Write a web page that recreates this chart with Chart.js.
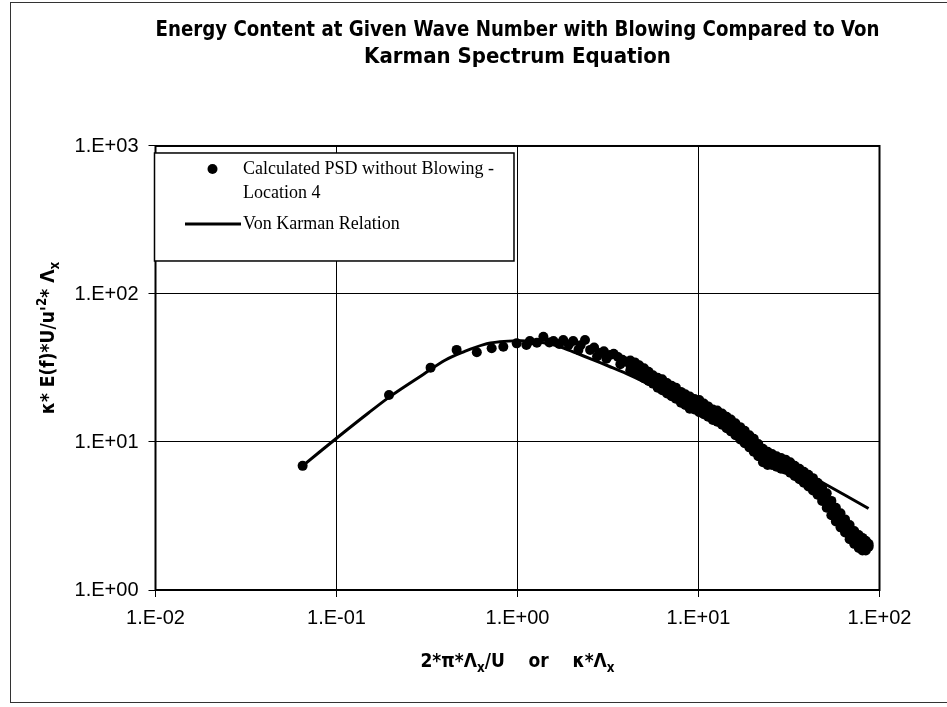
<!DOCTYPE html>
<html>
<head>
<meta charset="utf-8">
<script src="https://cdn.jsdelivr.net/npm/chart.js@4.4.1/dist/chart.umd.min.js"></script>
<style>
    html, body { margin: 0; padding: 0; background: #fff; }
</style>
</head>
<body>
<canvas id="grafica" width="947" height="707"></canvas>
<script>
const titulo = ['Energy Content at Given Wave Number with Blowing Compared to Von', 'Karman Spectrum Equation'];
// partes de los titulos de ejes: [texto, 0 normal | -1 subindice | 1 superindice]
const tituloX = [['2*π*Λ', 0], ['x', -1], ['/U    or    κ*Λ', 0], ['x', -1]];
const tituloY = [["κ* E(f)*U/u'", 0], ['2', 1], ['* Λ', 0], ['x', -1]];
const leyendaPSD = ['Calculated PSD without Blowing -', 'Location 4'];
const leyendaVonKarman = 'Von Karman Relation';

const ticksX = [0.01, 0.1, 1, 10, 100];
const etiquetasX = ['1.E-02', '1.E-01', '1.E+00', '1.E+01', '1.E+02'];
const ticksY = [1, 10, 100, 1000];
const etiquetasY = ['1.E+00', '1.E+01', '1.E+02', '1.E+03'];

// puntos sueltos (zona baja del espectro)
const psdX = [0.065, 0.195, 0.331, 0.461, 0.596, 0.72, 0.835, 0.99, 1.12, 1.17, 1.28, 1.39, 1.5, 1.58, 1.7, 1.79, 1.92, 2.03, 2.17, 2.23, 2.36, 2.52, 2.65, 2.75, 2.86, 3.0, 3.1, 3.25, 3.4, 3.59, 3.7, 3.8, 4.01];
const psdY = [6.9, 20.8, 31.8, 41.9, 40.4, 43.0, 44.0, 46.4, 45.2, 48.1, 46.9, 51.4, 47.0, 48.1, 46.0, 48.9, 45.5, 48.1, 41.9, 45.0, 48.9, 41.9, 43.5, 37.8, 39.9, 41.0, 36.5, 38.7, 39.5, 37.5, 33.5, 36.0, 34.9];

// banda densa de puntos: borde superior, centro e inferior
const bandaX = [4.2, 4.45, 4.7, 5.0, 5.3, 5.6, 5.95, 6.3, 6.7, 7.1, 7.5, 8.0, 8.45, 8.95, 9.5, 10.1, 10.7, 11.3, 12.0, 12.7, 13.5, 14.3, 15.1, 16.0, 17.0, 18.0, 19.1, 20.2, 21.4, 22.7, 24.1, 25.5, 27.0, 28.6, 30.3, 32.1, 34.0, 36.1, 38.2, 40.5, 42.9, 45.5, 48.2, 51.1, 54.2, 57.4, 60.9, 64.5, 68.4, 72.5, 76.8, 80.5, 84.0, 87.0];
const bandaSuperior = [35.5, 34.5, 33.0, 31.5, 29.8, 28.2, 27.2, 26.5, 25.0, 24.0, 23.3, 21.8, 21.0, 20.3, 19.5, 19.2, 18.2, 17.4, 16.6, 16.3, 15.6, 14.8, 14.2, 13.4, 12.6, 11.9, 11.1, 10.5, 9.7, 9.0, 8.6, 8.3, 8.0, 7.8, 7.6, 7.3, 6.9, 6.6, 6.3, 6.0, 5.7, 5.3, 4.9, 4.5, 4.0, 3.6, 3.3, 3.0, 2.75, 2.5, 2.35, 2.25, 2.15, 2.05];
const bandaCentro = [33.0, 31.8, 30.8, 29.0, 27.9, 26.3, 25.3, 24.2, 23.2, 22.0, 21.4, 20.1, 19.3, 18.6, 18.0, 17.4, 16.8, 16.0, 15.3, 14.9, 14.3, 13.6, 12.9, 12.2, 11.4, 10.8, 10.1, 9.5, 8.8, 8.1, 7.8, 7.6, 7.4, 7.2, 7.0, 6.7, 6.4, 6.1, 5.8, 5.5, 5.2, 4.8, 4.4, 4.0, 3.6, 3.2, 2.95, 2.7, 2.45, 2.25, 2.12, 2.05, 2.0, 2.0];
const bandaInferior = [30.5, 29.6, 28.5, 27.0, 25.8, 24.8, 23.3, 22.4, 21.3, 20.4, 19.6, 18.4, 17.8, 16.8, 16.6, 15.9, 15.4, 14.8, 14.1, 13.7, 13.1, 12.4, 11.8, 11.1, 10.4, 9.8, 9.2, 8.6, 8.0, 7.3, 7.0, 7.0, 6.8, 6.6, 6.5, 6.2, 5.9, 5.6, 5.3, 5.0, 4.7, 4.4, 4.0, 3.6, 3.2, 2.9, 2.65, 2.45, 2.2, 2.05, 1.92, 1.85, 1.85, 1.95];

// relacion de Von Karman
const vonKarmanX = [0.065, 0.1, 0.15, 0.2, 0.3, 0.4, 0.5, 0.65, 0.8, 1.0, 1.2, 1.4, 1.7, 2.1, 2.6, 3.2, 4.0, 5.0, 6.4, 8.0, 10.2, 13, 17, 22, 30, 40, 50, 65, 87];
const vonKarmanY = [6.9, 10.6, 15.7, 20.5, 28.5, 35.8, 40.5, 45.5, 47.5, 48.3, 48.0, 46.8, 44.2, 40.0, 36.0, 32.5, 29.0, 25.5, 21.7, 18.5, 15.6, 13.1, 10.9, 9.1, 7.4, 6.05, 5.2, 4.35, 3.55];

const fuenteSans = '"Liberation Sans", Arial, sans-serif';
const fuenteAngosta = '"DejaVu Sans Condensed", "Liberation Sans", sans-serif';
const fuenteSerif = '"Liberation Serif", "Times New Roman", serif';

const puntosPSD = psdX.map((x, i) => ({ x, y: psdY[i] }));
bandaX.forEach((x, i) => {
    puntosPSD.push({ x, y: bandaSuperior[i] });
    puntosPSD.push({ x, y: bandaCentro[i] });
    puntosPSD.push({ x, y: bandaInferior[i] });
});
const puntosVonKarman = vonKarmanX.map((x, i) => ({ x, y: vonKarmanY[i] }));

// escribe un texto con subindices / superindices, centrado en (0,0)
function textoCompuesto(ctx, partes, tam) {
    const fuente = (t) => 'bold ' + t + 'px ' + fuenteAngosta;
    let ancho = 0;
    partes.forEach(([t, tipo]) => {
        ctx.font = fuente(tipo === 0 ? tam : tam * 0.7);
        ancho += ctx.measureText(t).width;
    });
    let x = -ancho / 2;
    ctx.textAlign = 'left';
    ctx.textBaseline = 'alphabetic';
    partes.forEach(([t, tipo]) => {
        ctx.font = fuente(tipo === 0 ? tam : tam * 0.7);
        const dy = tipo === -1 ? tam * 0.28 : tipo === 1 ? -tam * 0.4 : 0;
        ctx.fillText(t, x, tam * 0.35 + dy);
        x += ctx.measureText(t).width;
    });
}

const marcoYLeyenda = {
    id: 'marcoYLeyenda',
    beforeDraw(chart) {
        const ctx = chart.ctx;
        ctx.save();
        ctx.fillStyle = '#fff';
        ctx.fillRect(0, 0, chart.width, chart.height);
        ctx.strokeStyle = '#333';
        ctx.lineWidth = 1;
        ctx.strokeRect(10.5, 2.5, 940, 700);
        ctx.restore();
    },
    beforeDatasetsDraw(chart) {
        const { ctx, chartArea: a } = chart;
        ctx.save();
        ctx.strokeStyle = '#000';
        ctx.lineWidth = 2;
        ctx.strokeRect(a.left, a.top, a.right - a.left, a.bottom - a.top);
        ctx.restore();
    },
    afterDatasetsDraw(chart) {
        const { ctx, chartArea: a } = chart;
        const x0 = a.left - 1;
        const y0 = a.top + 7;
        ctx.save();
        ctx.font = '18px ' + fuenteSerif;
        const anchoTexto = Math.max(...leyendaPSD.map(t => ctx.measureText(t).width), ctx.measureText(leyendaVonKarman).width);
        const ancho = 243 - x0 + anchoTexto + 20;

        ctx.fillStyle = '#fff';
        ctx.fillRect(x0, y0, ancho, 108);
        ctx.strokeStyle = '#000';
        ctx.lineWidth = 1.5;
        ctx.strokeRect(x0, y0, ancho, 108);

        // marcador de puntos
        ctx.fillStyle = '#000';
        ctx.beginPath();
        ctx.arc(212.5, y0 + 16, 5, 0, Math.PI * 2);
        ctx.fill();

        // muestra de linea
        ctx.lineWidth = 3;
        ctx.beginPath();
        ctx.moveTo(185, y0 + 71);
        ctx.lineTo(241, y0 + 71);
        ctx.stroke();

        ctx.textBaseline = 'middle';
        ctx.textAlign = 'left';
        ctx.fillText(leyendaPSD[0], 243, y0 + 16);
        ctx.fillText(leyendaPSD[1], 243, y0 + 40);
        ctx.fillText(leyendaVonKarman, 243, y0 + 71);
        ctx.restore();
    },
    afterDraw(chart) {
        const { ctx, chartArea: a } = chart;
        ctx.save();
        ctx.fillStyle = '#000';
        // titulo eje x
        ctx.translate((a.left + a.right) / 2, 660);
        textoCompuesto(ctx, tituloX, 19);
        ctx.restore();

        ctx.save();
        ctx.fillStyle = '#000';
        // titulo eje y
        ctx.translate(47, 338);
        ctx.rotate(-Math.PI / 2);
        textoCompuesto(ctx, tituloY, 19);
        ctx.restore();
    }
};

const ctx = document.getElementById('grafica');

const grafica = new Chart(ctx, {
    type: 'scatter',
    data: {
        datasets: [{
            label: leyendaPSD.join(' '),
            data: puntosPSD,
            showLine: false,
            pointRadius: 5,
            pointBackgroundColor: '#000',
            pointBorderWidth: 0,
            order: 2
        }, {
            label: leyendaVonKarman,
            data: puntosVonKarman,
            showLine: true,
            borderColor: '#000',
            borderWidth: 3,
            pointRadius: 0,
            tension: 0.35,
            order: 1
        }]
    },
    options: {
        responsive: false,
        animation: false,
        devicePixelRatio: 1,
        layout: {
            padding: { left: 0, right: 67.5, top: 0, bottom: 0 }
        },
        plugins: {
            legend: { display: false },
            tooltip: { enabled: false },
            title: {
                display: true,
                fullSize: false,
                text: titulo,
                color: '#000',
                font: { family: fuenteAngosta, size: 22, weight: 'bold', lineHeight: 1.227 },
                padding: { top: 16.5, bottom: 75.5 }
            }
        },
        scales: {
            x: {
                type: 'logarithmic',
                position: 'bottom',
                min: 0.01,
                max: 100,
                afterBuildTicks: (s) => { s.ticks = ticksX.map(v => ({ value: v })); },
                afterFit: (s) => { s.height = 117; },
                ticks: {
                    autoSkip: false,
                    maxRotation: 0,
                    padding: 9,
                    color: '#000',
                    font: { family: fuenteSans, size: 20 },
                    callback: (v, i) => etiquetasX[i]
                },
                grid: { color: '#000', lineWidth: 1, tickLength: 7 },
                border: { display: false }
            },
            y: {
                type: 'logarithmic',
                min: 1,
                max: 1000,
                afterBuildTicks: (s) => { s.ticks = ticksY.map(v => ({ value: v })); },
                afterFit: (s) => { s.width = 155.5; },
                ticks: {
                    autoSkip: false,
                    padding: 10,
                    color: '#000',
                    font: { family: fuenteSans, size: 20 },
                    callback: (v, i) => etiquetasY[i]
                },
                grid: { color: '#000', lineWidth: 1, tickLength: 7 },
                border: { display: false }
            }
        }
    },
    plugins: [marcoYLeyenda]
});
</script>
</body>
</html>
